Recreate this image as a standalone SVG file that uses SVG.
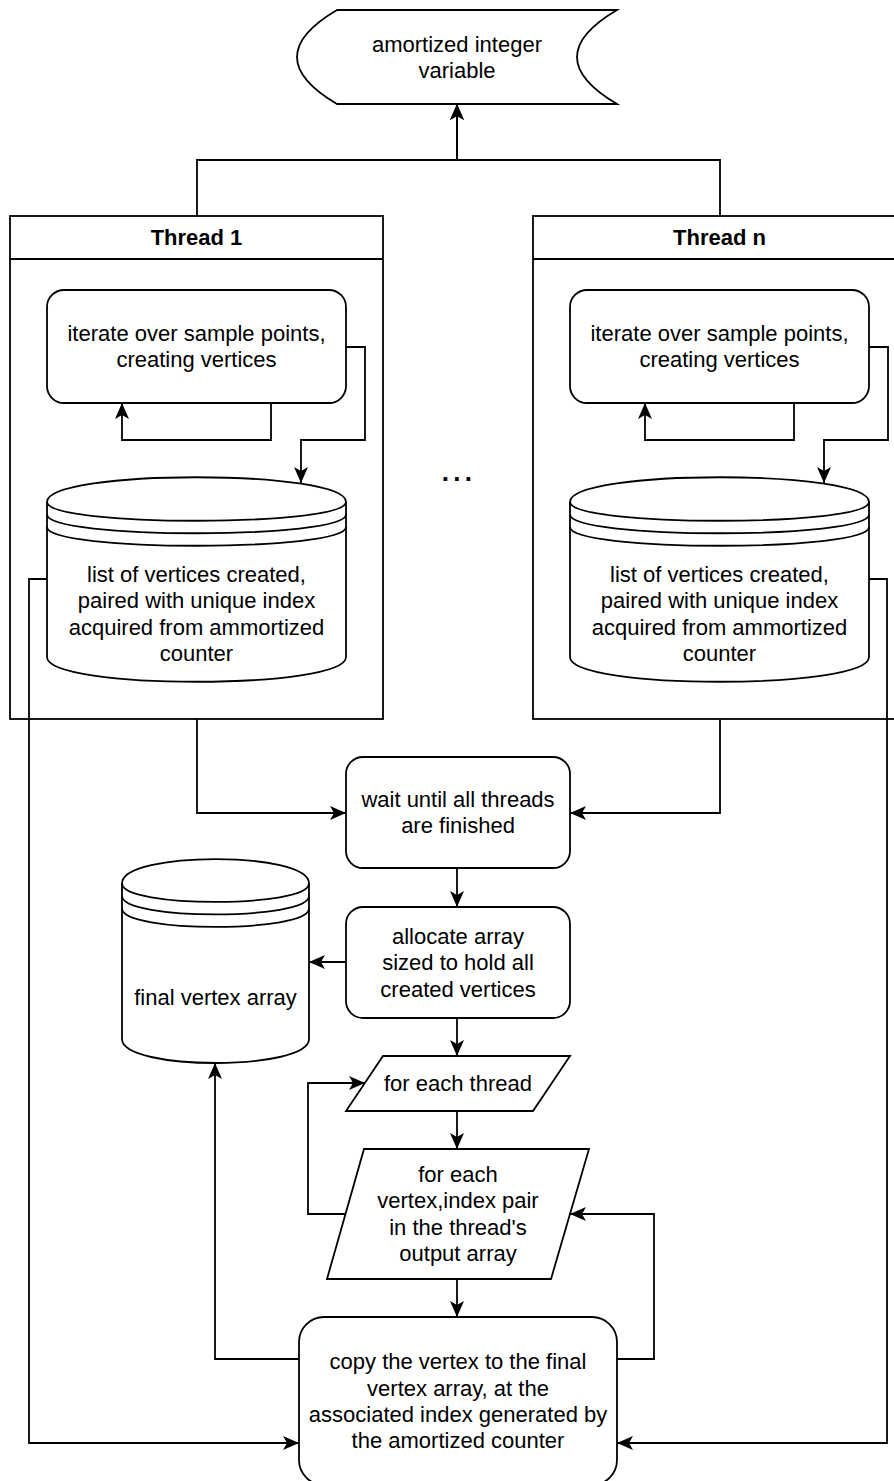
<svg xmlns="http://www.w3.org/2000/svg" width="894" height="1481" viewBox="0 0 894 1481">
<defs>
<style>
.s{fill:#fff;stroke:#000;stroke-width:1.8}
.l{fill:none;stroke:#000;stroke-width:1.8}
.e{fill:none;stroke:#000;stroke-width:1.8;marker-end:url(#arr)}
text{font-family:"Liberation Sans",Arial,Helvetica,sans-serif;font-size:22px;fill:#000;text-anchor:middle}
.b{font-weight:bold}
</style>
<marker id="arr" viewBox="-17 -8 18 16" refX="0" refY="0" markerWidth="18" markerHeight="16" markerUnits="userSpaceOnUse" orient="auto">
<path d="M0,0 L-16,-7 L-12,0 L-16,7 Z" fill="#000"/>
</marker>
</defs>
<rect width="894" height="1481" fill="#fff"/>

<g id="thread1">
<rect class="s" x="10" y="216" width="373" height="503"/>
<line class="l" x1="10" y1="259" x2="383" y2="259"/>
<text class="b" x="196.5" y="245">Thread 1</text>
</g>

<g id="threadn">
<rect class="s" x="533" y="216" width="373" height="503"/>
<line class="l" x1="533" y1="259" x2="906" y2="259"/>
<text class="b" x="719.5" y="245">Thread n</text>
</g>

<g id="connectors">
<path class="e" d="M197,216 V160 H457 V104"/>
<path class="e" d="M720,216 V160 H457 V104"/>
<path class="e" d="M271,403 V440 H122 V403"/>
<path class="e" d="M346,347 H365 V440 H301 V483"/>
<path class="e" d="M794,403 V440 H645 V403"/>
<path class="e" d="M869,347 H888 V440 H824 V483"/>
<path class="e" d="M47,579 H29 V1443 H299"/>
<path class="e" d="M869,579 H887 V1443 H617"/>
<path class="e" d="M197,719 V813 H346"/>
<path class="e" d="M720,719 V813 H570"/>
<path class="e" d="M457,868 V907"/>
<path class="e" d="M346,962 H309"/>
<path class="e" d="M457,1018 V1056"/>
<path class="e" d="M457,1111 V1149"/>
<path class="e" d="M457,1279 V1317"/>
<path class="e" d="M345.5,1214 H308 V1083 H365"/>
<path class="e" d="M299,1359 H215 V1063"/>
<path class="e" d="M617,1359 H654 V1214 H570"/>
</g>

<g id="amortized-variable">
<path class="s" d="M337,10 L617,10 Q537,57 617,104 L337,104 Q257,57 337,10 Z"/>
<text x="457" y="51.5">amortized integer</text>
<text x="457" y="78">variable</text>
</g>

<g id="iterate1">
<rect class="s" x="47" y="290" width="299" height="113" rx="17" ry="17"/>
<text x="196.5" y="341">iterate over sample points,</text>
<text x="196.5" y="367.3">creating vertices</text>
</g>

<g id="iteraten">
<rect class="s" x="570" y="290" width="299" height="113" rx="17" ry="17"/>
<text x="719.5" y="341">iterate over sample points,</text>
<text x="719.5" y="367.3">creating vertices</text>
</g>

<g id="list1">
<path class="s" d="M47,502 C47,469 346,469 346,502 L346,657 C346,690 47,690 47,657 Z"/>
<path class="l" d="M47,502 C47,527 346,527 346,502 M47,514.5 C47,539.5 346,539.5 346,514.5 M47,527 C47,552 346,552 346,527"/>
<text x="196.5" y="582">list of vertices created,</text>
<text x="196.5" y="608.4">paired with unique index</text>
<text x="196.5" y="634.8">acquired from ammortized</text>
<text x="196.5" y="661.2">counter</text>
</g>

<g id="listn">
<path class="s" d="M570,502 C570,469 869,469 869,502 L869,657 C869,690 570,690 570,657 Z"/>
<path class="l" d="M570,502 C570,527 869,527 869,502 M570,514.5 C570,539.5 869,539.5 869,514.5 M570,527 C570,552 869,552 869,527"/>
<text x="719.5" y="582">list of vertices created,</text>
<text x="719.5" y="608.4">paired with unique index</text>
<text x="719.5" y="634.8">acquired from ammortized</text>
<text x="719.5" y="661.2">counter</text>
</g>

<g id="ellipsis">
<text class="b" x="459" y="481" style="font-size:26px;letter-spacing:4.3px">...</text>
</g>

<g id="wait">
<rect class="s" x="346" y="757" width="224" height="111" rx="17" ry="17"/>
<text x="458" y="807">wait until all threads</text>
<text x="458" y="833.3">are finished</text>
</g>

<g id="allocate">
<rect class="s" x="346" y="907" width="224" height="111" rx="17" ry="17"/>
<text x="458" y="943.7">allocate array</text>
<text x="458" y="970.1">sized to hold all</text>
<text x="458" y="996.5">created vertices</text>
</g>

<g id="final-array">
<path class="s" d="M122,883.5 C122,851 309,851 309,883.5 L309,1039 C309,1071 122,1071 122,1039 Z"/>
<path class="l" d="M122,883.5 C122,908 309,908 309,883.5 M122,896 C122,920.5 309,920.5 309,896 M122,908.5 C122,933 309,933 309,908.5"/>
<text x="215.5" y="1004.6">final vertex array</text>
</g>

<g id="for-each-thread">
<path class="s" d="M383,1056 L570,1056 L533,1111 L346,1111 Z"/>
<text x="458" y="1091">for each thread</text>
</g>

<g id="for-each-pair">
<path class="s" d="M364,1149 L589,1149 L551,1279 L327,1279 Z"/>
<text x="458" y="1182">for each</text>
<text x="458" y="1208.4">vertex,index pair</text>
<text x="458" y="1234.8">in the thread's</text>
<text x="458" y="1261.2">output array</text>
</g>

<g id="copy">
<rect class="s" x="299" y="1317" width="318" height="168" rx="25" ry="25"/>
<text x="458" y="1369.2">copy the vertex to the final</text>
<text x="458" y="1395.6">vertex array, at the</text>
<text x="458" y="1422">associated index generated by</text>
<text x="458" y="1448.4">the amortized counter</text>
</g>
</svg>
